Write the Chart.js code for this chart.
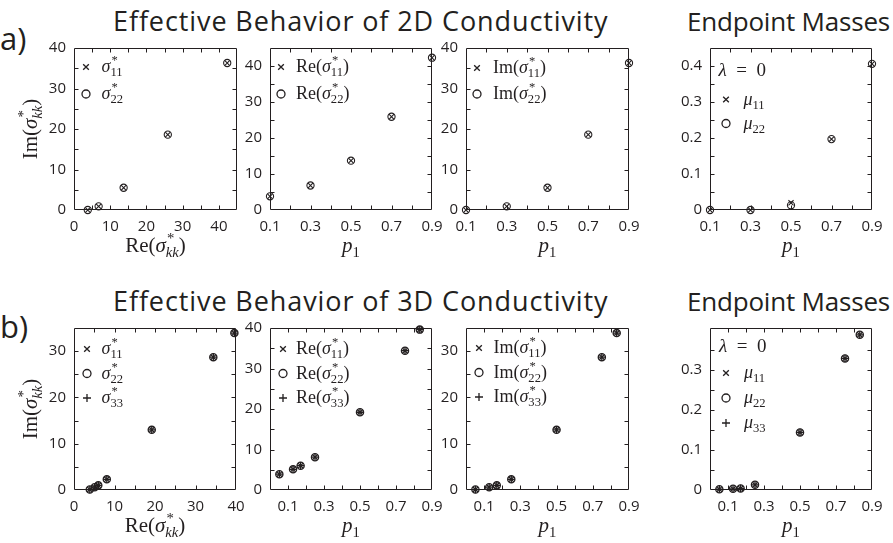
<!DOCTYPE html>
<html lang="en">
  <head>
    <meta charset="UTF-8" />
    <meta name="viewport" content="width=device-width, initial-scale=1.0" />
    <script src="https://cdn.jsdelivr.net/npm/chart.js"></script>
    <title>Effective Behavior of Conductivity</title>
    <style>
      body { margin: 0; background: #fff; }
      #root { position: relative; width: 893px; height: 543px; overflow: hidden; }
      #root canvas { position: absolute; }
      .hd { position: absolute; font-family: 'Open Sans', sans-serif; color: #231f20; white-space: nowrap; line-height: 1; }
      .big { font-size: 27px; letter-spacing: 0.9px; }
      .ep { font-size: 26px; letter-spacing: -0.2px; }
      .tag { font-size: 31px; }
    </style>
  </head>
  <body>
    <div id="root">
      <div class="hd big" style="left:113px; top:7px">Effective Behavior of 2D Conductivity</div>
      <div class="hd ep" style="left:687px; top:8px">Endpoint Masses</div>
      <div class="hd big" style="left:113px; top:287px">Effective Behavior of 3D Conductivity</div>
      <div class="hd ep" style="left:687px; top:288px">Endpoint Masses</div>
      <div class="hd tag" style="left:0px; top:23px">a)</div>
      <div class="hd tag" style="left:0px; top:311px">b)</div>
    </div>

    <script>
      // 2D data, p1 = volume fraction
      const p1_2d = [0.1, 0.3, 0.5, 0.7, 0.9]
      const re2d_11 = [3.8, 6.8, 13.7, 25.9, 42.3]
      const re2d_22 = [3.8, 6.8, 13.7, 25.9, 42.3]
      const im2d_11 = [0, 0.9, 5.5, 18.6, 36.3]
      const im2d_22 = [0, 0.9, 5.5, 18.6, 36.3]
      const mu2d_11 = [0, 0, 0.02, 0.197, 0.406]
      const mu2d_22 = [0, 0, 0.013, 0.197, 0.406]

      // 3D data
      const p1_3d = [0.052, 0.128, 0.17, 0.25, 0.5, 0.75, 0.832]
      const re3d_11 = [3.9, 5.1, 6.0, 8.1, 19.2, 34.4, 39.6]
      const re3d_22 = [3.9, 5.1, 6.0, 8.1, 19.2, 34.4, 39.6]
      const re3d_33 = [3.9, 5.1, 6.0, 8.1, 19.2, 34.4, 39.6]
      const im3d_11 = [0.1, 0.6, 1.0, 2.3, 13.0, 28.7, 33.9]
      const im3d_22 = [0.1, 0.6, 1.0, 2.3, 13.0, 28.7, 33.9]
      const im3d_33 = [0.1, 0.6, 1.0, 2.3, 13.0, 28.7, 33.9]
      const mu3d_11 = [0.002, 0.003, 0.004, 0.013, 0.144, 0.329, 0.388]
      const mu3d_22 = [0.002, 0.003, 0.004, 0.013, 0.144, 0.329, 0.388]
      const mu3d_33 = [0.002, 0.003, 0.004, 0.013, 0.144, 0.329, 0.388]

      const INK = '#231f20'
      const SERIF = "'Liberation Serif', serif"
      Chart.defaults.color = INK

      // math label pieces: [text, kind]  kind = r | i | sup | sub | subi
      const sig = (s) => [['σ', 'i'], ['*', 'sup'], [s, 'sub']]
      const sigkk = [['σ', 'i'], ['*', 'sup'], ['kk', 'subi']]
      const RE = (s) => [['Re(', 'r'], ...sig(s), [')', 'r']]
      const IM = (s) => [['Im(', 'r'], ...sig(s), [')', 'r']]
      const MU = (s) => [['μ', 'i'], [s, 'sub']]
      const P1 = [['p', 'i'], ['1', 'sub']]
      const LAMBDA = [['λ', 'i'], ['\u2002=\u20020', 'r']]
      const RE_KK = [['Re(', 'r'], ...sigkk, [')', 'r']]
      const IM_KK = [['Im(', 'r'], ...sigkk, [')', 'r']]

      function layoutMath(ctx, parts, size) {
        const runs = []
        let x = 0, supX = null, supEnd = 0
        for (const [t, k] of parts) {
          const small = k !== 'r' && k !== 'i'
          const italic = k === 'i' || k === 'subi'
          const font = (italic ? 'italic ' : '') + (small ? size * 0.7 : size) + 'px ' + SERIF
          ctx.font = font
          const w = ctx.measureText(t).width
          if (k === 'sup') {
            runs.push({ t, font, x: x + size * 0.06, dy: -0.42 * size })
            supX = x
            x += w + size * 0.06
            supEnd = x
          } else if (k === 'sub' || k === 'subi') {
            const x0 = supX !== null ? supX : x
            runs.push({ t, font, x: x0, dy: 0.24 * size })
            x = Math.max(supX !== null ? supEnd : 0, x0 + w)
            supX = null
          } else {
            runs.push({ t, font, x, dy: 0 })
            x += w
            supX = null
          }
        }
        return { runs, width: x }
      }

      function drawMath(ctx, parts, x, y, size, align) {
        const m = layoutMath(ctx, parts, size)
        const x0 = align === 'center' ? x - m.width / 2 : x
        ctx.textAlign = 'left'
        ctx.textBaseline = 'alphabetic'
        for (const r of m.runs) {
          ctx.font = r.font
          ctx.fillText(r.t, x0 + r.x, y + r.dy)
        }
      }

      function marker(ctx, style, x, y) {
        ctx.fillStyle = 'rgba(0,0,0,0)'
        ctx.lineWidth = 1.3
        Chart.helpers.drawPoint(ctx, { pointStyle: style, radius: 4, rotation: 0, borderWidth: 1.3 }, x, y)
        ctx.fillStyle = INK
      }

      // frame with inward ticks, legend and axis titles
      const texLayer = {
        id: 'texLayer',
        afterDraw(chart, args, o) {
          const ctx = chart.ctx
          const a = chart.chartArea
          const xs = chart.scales.x
          const ys = chart.scales.y
          ctx.save()
          ctx.strokeStyle = INK
          ctx.fillStyle = INK
          ctx.lineWidth = 1
          const L = a.left + 0.5, R = a.right - 0.5, T = a.top + 0.5, B = a.bottom - 0.5
          const tk = 4
          ctx.beginPath()
          ctx.rect(L, T, R - L, B - T)
          xs.ticks.forEach((t) => {
            if (t.value <= xs.min + 1e-9 || t.value >= xs.max - 1e-9) return
            const px = Math.round(xs.getPixelForValue(t.value)) + 0.5
            ctx.moveTo(px, B); ctx.lineTo(px, B - tk)
            ctx.moveTo(px, T); ctx.lineTo(px, T + tk)
          })
          ys.ticks.forEach((t) => {
            if (t.value <= ys.min + 1e-9 || t.value >= ys.max - 1e-9) return
            const py = Math.round(ys.getPixelForValue(t.value)) + 0.5
            ctx.moveTo(L, py); ctx.lineTo(L + tk, py)
            ctx.moveTo(R, py); ctx.lineTo(R - tk, py)
          })
          ctx.stroke()

          const lg = o.legend
          if (lg.head) drawMath(ctx, lg.head, a.left + lg.headX, a.top + lg.headY, 19, 'left')
          lg.items.forEach((it, i) => {
            const my = a.top + lg.y + i * lg.dy
            marker(ctx, it.style, a.left + lg.mx, my)
            drawMath(ctx, it.parts, a.left + lg.tx, my + 5, 18, 'left')
          })

          drawMath(ctx, o.xTitle, (a.left + a.right) / 2, a.bottom + 42, 21, 'center')
          if (o.yTitle) {
            ctx.translate(a.left - 37, (a.top + a.bottom) / 2)
            ctx.rotate(-Math.PI / 2)
            drawMath(ctx, o.yTitle, 0, 0, 21, 'center')
          }
          ctx.restore()
        },
      }

      const near = (v, n) => Math.abs(v / n - Math.round(v / n)) < 1e-6
      const every10 = (v) => (near(v, 10) ? String(Math.round(v)) : '')
      const oddTenths = (v) => (near(v, 0.1) && Math.round(v * 10) % 2 === 1 ? v.toFixed(1) : '')
      const tenths = (v) => (near(v, 0.1) ? (Math.abs(v) < 1e-9 ? '0' : v.toFixed(1)) : '')

      const legA = { mx: 12, tx: 27.5, y: 19, dy: 27 }
      const legB = { mx: 13, tx: 27.5, y: 21, dy: 24.5 }
      const legA4 = { headX: 8.5, headY: 28, mx: 16, tx: 33.5, y: 51.5, dy: 24 }
      const legB4 = { headX: 9, headY: 24, mx: 16, tx: 34, y: 45, dy: 25 }

      const panels = [
        { frame: [74, 48, 163, 162], padL: 74, x: [0, 45, 5, every10], y: [0, 40, 5, every10],
          series: [[re2d_11, im2d_11, 'crossRot'], [re2d_22, im2d_22, 'circle']],
          legend: { ...legA, items: [{ style: 'crossRot', parts: sig('11') }, { style: 'circle', parts: sig('22') }] },
          xTitle: RE_KK, yTitle: IM_KK },
        { frame: [270, 48, 162, 162], padL: 45, x: [0.1, 0.9, 0.1, oddTenths], y: [0, 45, 5, every10],
          series: [[p1_2d, re2d_11, 'crossRot'], [p1_2d, re2d_22, 'circle']],
          legend: { ...legA, mx: 11, tx: 26, items: [{ style: 'crossRot', parts: RE('11') }, { style: 'circle', parts: RE('22') }] },
          xTitle: P1 },
        { frame: [466, 48, 163, 162], padL: 45, x: [0.1, 0.9, 0.1, oddTenths], y: [0, 40, 5, every10],
          series: [[p1_2d, im2d_11, 'crossRot'], [p1_2d, im2d_22, 'circle']],
          legend: { ...legA, mx: 11, tx: 27, y: 20, dy: 26, items: [{ style: 'crossRot', parts: IM('11') }, { style: 'circle', parts: IM('22') }] },
          xTitle: P1 },
        { frame: [710, 48, 162, 162], padL: 45, x: [0.1, 0.9, 0.1, oddTenths], y: [0, 0.45, 0.05, tenths],
          series: [[p1_2d, mu2d_11, 'crossRot'], [p1_2d, mu2d_22, 'circle']],
          legend: { ...legA4, head: LAMBDA, items: [{ style: 'crossRot', parts: MU('11') }, { style: 'circle', parts: MU('22') }] },
          xTitle: P1 },

        { frame: [74, 328, 162, 162], padL: 74, x: [0, 40, 5, every10], y: [0, 35, 5, every10],
          series: [[re3d_11, im3d_11, 'crossRot'], [re3d_22, im3d_22, 'circle'], [re3d_33, im3d_33, 'cross']],
          legend: { ...legB, items: [{ style: 'crossRot', parts: sig('11') }, { style: 'circle', parts: sig('22') }, { style: 'cross', parts: sig('33') }] },
          xTitle: RE_KK, yTitle: IM_KK },
        { frame: [270, 328, 162, 162], padL: 45, x: [0, 0.9, 0.1, oddTenths], y: [0, 40, 5, every10],
          series: [[p1_3d, re3d_11, 'crossRot'], [p1_3d, re3d_22, 'circle'], [p1_3d, re3d_33, 'cross']],
          legend: { ...legB, tx: 26, items: [{ style: 'crossRot', parts: RE('11') }, { style: 'circle', parts: RE('22') }, { style: 'cross', parts: RE('33') }] },
          xTitle: P1 },
        { frame: [466, 328, 163, 162], padL: 45, x: [0, 0.9, 0.1, oddTenths], y: [0, 35, 5, every10],
          series: [[p1_3d, im3d_11, 'crossRot'], [p1_3d, im3d_22, 'circle'], [p1_3d, im3d_33, 'cross']],
          legend: { ...legB, y: 20, items: [{ style: 'crossRot', parts: IM('11') }, { style: 'circle', parts: IM('22') }, { style: 'cross', parts: IM('33') }] },
          xTitle: P1 },
        { frame: [710, 328, 162, 162], padL: 45, x: [0, 0.9, 0.1, oddTenths], y: [0, 0.405, 0.05, tenths],
          series: [[p1_3d, mu3d_11, 'crossRot'], [p1_3d, mu3d_22, 'circle'], [p1_3d, mu3d_33, 'cross']],
          legend: { ...legB4, head: LAMBDA, items: [{ style: 'crossRot', parts: MU('11') }, { style: 'circle', parts: MU('22') }, { style: 'cross', parts: MU('33') }] },
          xTitle: P1 },
      ]

      const padT = 14, padR = 14, padB = 50
      const tickFont = { family: "'Open Sans', sans-serif", size: 15 }

      const axis = ([min, max, step, lab], fit) => ({
        type: 'linear',
        min,
        max,
        afterFit: (s) => {
          fit(s)
          s.paddingLeft = 0
          s.paddingRight = 0
          s.paddingTop = 0
          s.paddingBottom = 0
        },
        grid: { drawOnChartArea: false, drawTicks: false },
        border: { display: false },
        ticks: { stepSize: step, autoSkip: false, maxRotation: 0, padding: 8, font: tickFont, color: INK, callback: (v) => lab(v) },
      })

      const root = document.getElementById('root')
      for (const p of panels) {
        const [l, t, w, h] = p.frame
        const canvas = document.createElement('canvas')
        canvas.width = p.padL + w + padR
        canvas.height = padT + h + padB
        canvas.style.left = l - p.padL + 'px'
        canvas.style.top = t - padT + 'px'
        root.appendChild(canvas)

        const thick = p.series.length > 2 ? 1.3 : 1.1
        new Chart(canvas, {
          type: 'scatter',
          data: {
            datasets: p.series.map(([xv, yv, style]) => ({
              data: xv.map((x, i) => ({ x, y: yv[i] })),
              pointStyle: style,
              pointRadius: 3.6,
              pointHoverRadius: 3.6,
              borderColor: INK,
              backgroundColor: 'rgba(0,0,0,0)',
              pointBorderWidth: thick,
              clip: false,
            })),
          },
          options: {
            responsive: false,
            animation: false,
            devicePixelRatio: 1,
            events: [],
            layout: { padding: { left: 0, top: padT, right: padR, bottom: 0 } },
            plugins: {
              legend: { display: false },
              tooltip: { enabled: false },
              texLayer: { legend: p.legend, xTitle: p.xTitle, yTitle: p.yTitle },
            },
            scales: {
              x: axis(p.x, (s) => { s.height = padB }),
              y: axis(p.y, (s) => { s.width = p.padL }),
            },
          },
          plugins: [texLayer],
        })
      }
    </script>
  </body>
</html>
